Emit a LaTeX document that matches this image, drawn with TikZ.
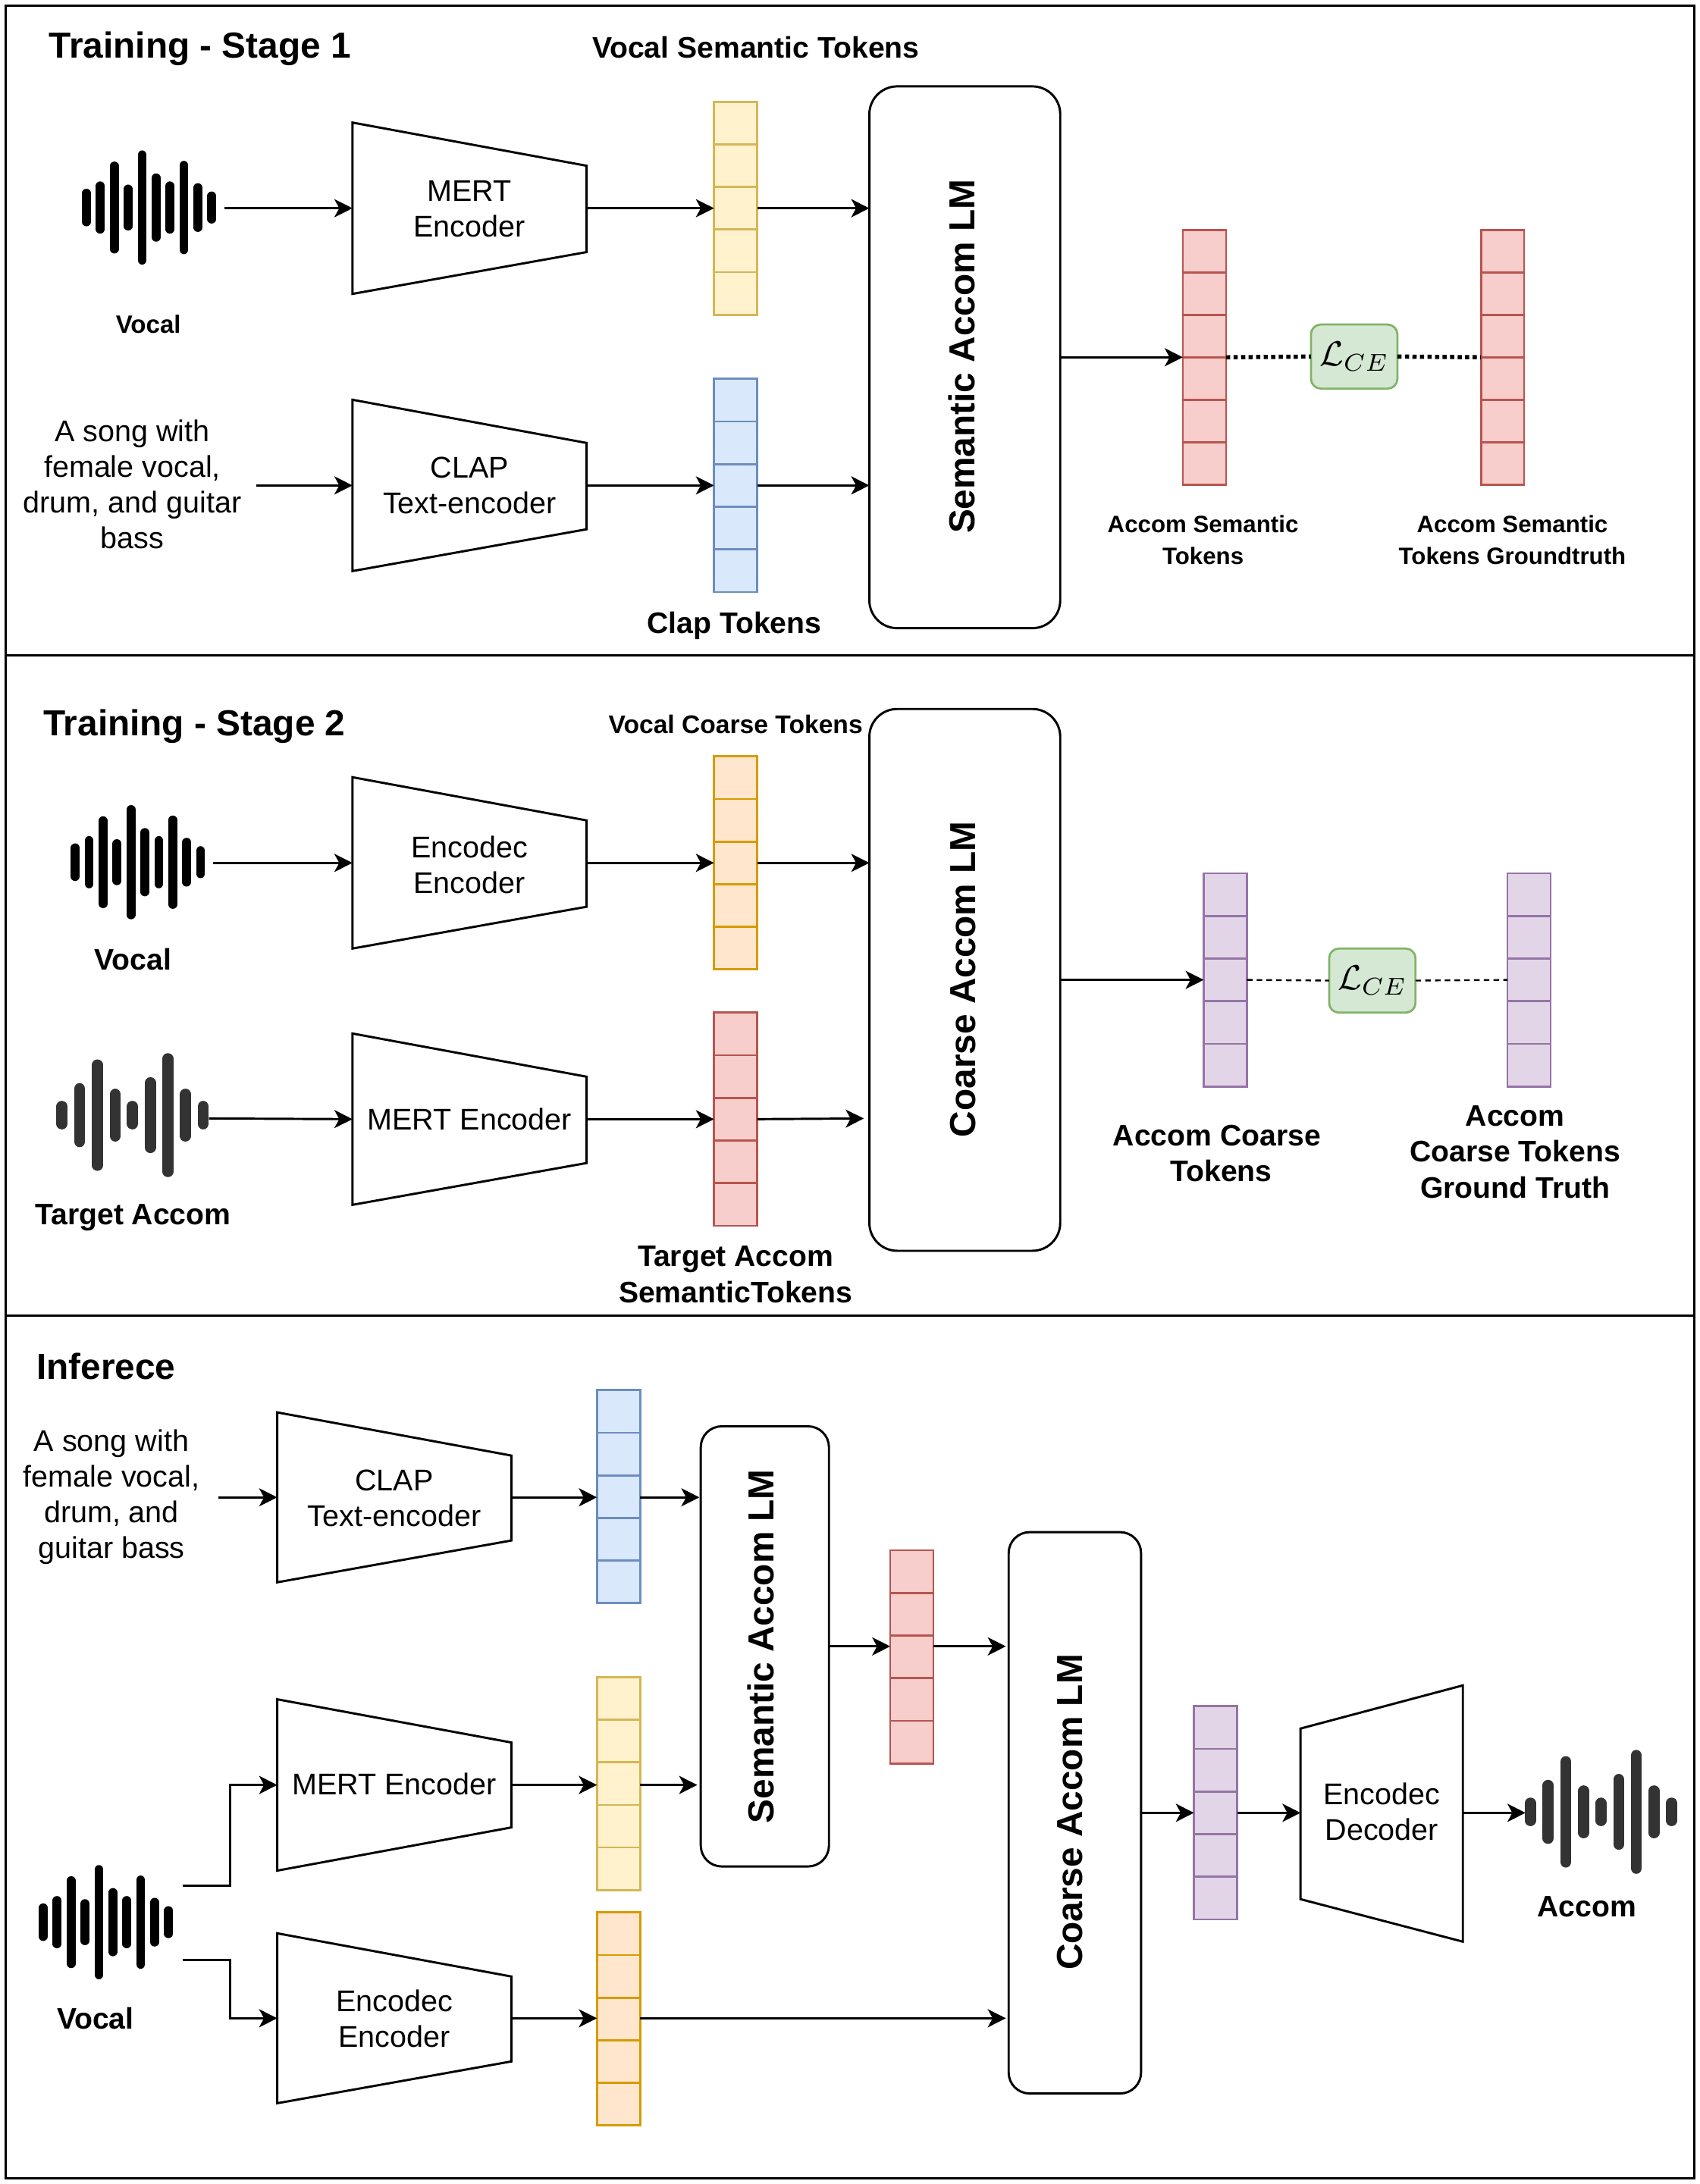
\documentclass[tikz,border=0pt]{standalone}
\usepackage{fontspec}
\setmainfont{Liberation Sans}
\usetikzlibrary{arrows.meta}
\definecolor{yelF}{HTML}{FFF2CC}\definecolor{yelD}{HTML}{D6B656}
\definecolor{bluF}{HTML}{DAE8FC}\definecolor{bluD}{HTML}{6C8EBF}
\definecolor{oraF}{HTML}{FFE6CC}\definecolor{oraD}{HTML}{D79B00}
\definecolor{redF}{HTML}{F8CECC}\definecolor{redD}{HTML}{B85450}
\definecolor{purF}{HTML}{E1D5E7}\definecolor{purD}{HTML}{9673A6}
\definecolor{greF}{HTML}{D5E8D4}\definecolor{greD}{HTML}{82B366}
\definecolor{waveD}{HTML}{333333}
\tikzset{
  panel/.style={draw=black,line width=1.6pt},
  link/.style={draw=black,line width=1.6pt,-{Stealth[length=13pt,width=13pt,inset=3.5pt]}},
  trapez/.style={draw=black,line width=1.6pt,line join=miter,fill=white},
  anchorbox/.style={draw=none,inner sep=0pt,outer sep=0pt},
  lmbox/.style={draw=black,line width=1.6pt,rounded corners=20pt,fill=white,inner sep=0pt,outer sep=0pt,anchor=north west},
  lmtext/.style={inner sep=0pt,rotate=90,font=\fontsize{26}{31}\selectfont\bfseries},
  tokbox/.style={line width=1.5pt,inner sep=0pt,outer sep=0pt,anchor=north west,minimum width=31pt},
  yel/.style={draw=yelD,fill=yelF}, blu/.style={draw=bluD,fill=bluF},
  ora/.style={draw=oraD,fill=oraF}, rdd/.style={draw=redD,fill=redF},
  pur/.style={draw=purD,fill=purF},
  lossbox/.style={draw=greD,fill=greF,line width=1.5pt,rounded corners=7pt,inner sep=0pt,outer sep=0pt,minimum width=62pt,minimum height=46pt},
  heavydots/.style={line width=3pt,dash pattern=on 3pt off 2.4pt},
  thindash/.style={line width=1.3pt,dash pattern=on 4pt off 3pt},
  title/.style={inner sep=0pt,anchor=west,font=\fontsize{26}{31}\selectfont\bfseries},
  lab/.style={inner sep=0pt,align=center,font=\fontsize{21.3}{25.8}\selectfont\bfseries},
  labs/.style={inner sep=0pt,align=center,font=\fontsize{17}{23}\selectfont\bfseries},
  body/.style={inner sep=0pt,align=center,font=\fontsize{21.5}{25.6}\selectfont}
}
% name, left x, top y, cells, cell height, colour style
\newcommand{\tokenstack}[6]{%
  \pgfmathsetmacro{\tokh}{#4*#5}%
  \node[tokbox,#6,minimum height=\tokh pt] (#1) at (#2,#3) {};
  \pgfmathtruncatemacro{\tokn}{#4-1}%
  \foreach \i in {1,...,\tokn}{%
    \pgfmathsetmacro{\toky}{#3+\i*#5}%
    \draw[line width=1.5pt,#6,fill=none] (#2,\toky) -- ({#2+31},\toky);
  }%
}
% name, xleft, xright, left top, left bottom, right top, right bottom, text offset, text
\newcommand{\encoder}[9]{%
  \draw[trapez] (#2,#4) -- (#3,#6) -- (#3,#7) -- (#2,#5) -- cycle;
  \pgfmathsetmacro{\encw}{#3-#2}\pgfmathsetmacro{\ench}{#5-#4}%
  \pgfmathsetmacro{\encx}{(#2+#3)/2}\pgfmathsetmacro{\ency}{(#4+#5)/2}%
  \node[anchorbox,minimum width=\encw pt,minimum height=\ench pt] (#1) at (\encx,\ency) {};
  \node[body] at ([yshift=#8 pt]#1.center) {#9};
}
% first-bar x, centre y : ten-bar vocal icon
\newcommand{\vocalwave}[2]{%
  \foreach \dx/\h in {0/27,10/37.5,20/66,30/33,40/82,50/49,60/37.5,70/67,80/35,90/23}{%
    \pgfmathsetmacro{\bx}{#1+\dx}\pgfmathsetmacro{\ba}{#2-\h/2+3.2}\pgfmathsetmacro{\bb}{#2+\h/2-3.2}%
    \draw[black,line width=6.4pt,line cap=round] (\bx,\ba) -- (\bx,\bb);
  }%
}
% first-bar x, centre y : nine-bar accompaniment icon
\newcommand{\accomwave}[2]{%
  \foreach \dx/\h in {0/20.5,12.7/46,25.4/80,38.2/38,50.6/20.5,63.4/54.5,76/89,88.6/38,101.3/20.5}{%
    \pgfmathsetmacro{\bx}{#1+\dx}\pgfmathsetmacro{\ba}{#2-\h/2+4}\pgfmathsetmacro{\bb}{#2+\h/2-4}%
    \draw[waveD,line width=8pt,line cap=round] (\bx,\ba) -- (\bx,\bb);
  }%
}
\newcommand{\lossterm}{\scalebox{2.5}{$\mathcal{L}_{CE}$}}
\begin{document}
\begin{tikzpicture}[x=1pt,y=-1pt]
\useasboundingbox (0,0) rectangle (1219.7,1568);
\fill[white] (0,0) rectangle (1219.7,1568);
% panels
\draw[panel] (4,4) rectangle (1216,470.5);
\draw[panel] (4,470.5) rectangle (1216,944.5);
\draw[panel] (4,944.5) rectangle (1216,1564);

%% ---- Stage 1
\node[title] (t1) at (35,35) {Training - Stage 1};
\node[lab] (vst) at (542.5,34) {Vocal Semantic Tokens};
\vocalwave{62}{149}
\coordinate (v1out) at (161,149.5);
\node[labs,font=\fontsize{18}{22}\selectfont\bfseries] (v1lab) at (106.5,233) {Vocal};
\node[body] (song1) at (95,347.5) {A song with\\female vocal,\\drum, and guitar\\bass};
\coordinate (s1out) at (184,348.5);
\encoder{mert1}{253}{421}{88}{211}{119}{181}{-0.6}{MERT\\Encoder}
\encoder{clap1}{253}{421}{287}{410}{318}{380}{-0.2}{CLAP\\Text-encoder}
\tokenstack{yel1}{512.5}{73}{5}{30.6}{yel}
\tokenstack{blu1}{512.5}{272}{5}{30.6}{blu}
\node[lab] (claplab) at (527,449) {Clap Tokens};
\node[lmbox,minimum width=137pt,minimum height=389pt] (lm1) at (624,62) {};
\node[lmtext] at (690.5,256) {Semantic Accom LM};
\tokenstack{red1}{849}{165}{6}{30.5}{rdd}
\tokenstack{red2}{1063}{165}{6}{30.5}{rdd}
\node[lossbox] (loss1) at (972,256) {\lossterm};
\node[labs] (aslab) at (863.5,387.5) {Accom Semantic\\Tokens};
\node[labs] (asglab) at (1085.5,387.5) {Accom Semantic\\Tokens Groundtruth};
\draw[link] (v1out) -- (mert1.west);
\draw[link] (s1out) -- (clap1.west);
\draw[link] (mert1.east) -- (yel1.west);
\draw[link] (clap1.east) -- (blu1.west);
\draw[link] (yel1.east) -- (yel1.east -| lm1.west);
\draw[link] (blu1.east) -- (blu1.east -| lm1.west);
\draw[link] (lm1.east) -- (red1.west);
\draw[heavydots] (red1.east) -- (loss1.west);
\draw[heavydots] (loss1.east) -- (red2.west);

%% ---- Stage 2
\node[title] (t2) at (31,521.5) {Training - Stage 2};
\node[lab,font=\fontsize{18.3}{22}\selectfont\bfseries] (vct) at (528,520) {Vocal Coarse Tokens};
\vocalwave{54}{619}
\coordinate (v2out) at (153,619.5);
\node[lab] (v2lab) at (95.5,689) {Vocal};
\accomwave{44.5}{800.6}
\coordinate (a2out) at (150,803);
\node[lab] (talab) at (95.5,874) {Target Accom};
\encoder{enc2}{253}{421}{558}{681}{589}{651}{-1.5}{Encodec\\Encoder}
\encoder{mert2}{253}{421}{742}{865}{773}{835}{0}{MERT Encoder}
\tokenstack{ora2}{512.5}{543}{5}{30.6}{ora}
\tokenstack{red3}{512.5}{727}{5}{30.6}{rdd}
\node[lab] (tastlab) at (528,915) {Target Accom\\SemanticTokens};
\node[lmbox,minimum width=137pt,minimum height=389pt] (lm2) at (624,509) {};
\node[lmtext] at (691,703) {Coarse Accom LM};
\tokenstack{pur1}{864}{627}{5}{30.6}{pur}
\tokenstack{pur2}{1082}{627}{5}{30.6}{pur}
\node[lossbox] (loss2) at (985,704) {\lossterm};
\node[lab] (aclab) at (873.5,828) {Accom Coarse\\\hspace*{6pt}Tokens};
\node[lab] (acglab) at (1087.5,827) {Accom\\Coarse Tokens\\Ground Truth};
\coordinate (lm2in) at (620,803);
\draw[link] (v2out) -- (enc2.west);
\draw[link] (a2out) -- (mert2.west);
\draw[link] (enc2.east) -- (ora2.west);
\draw[link] (mert2.east) -- (red3.west);
\draw[link] (ora2.east) -- (ora2.east -| lm2.west);
\draw[link] (red3.east) -- (lm2in);
\draw[link] (lm2.east) -- (pur1.west);
\draw[thindash] (pur1.east) -- (loss2.west);
\draw[thindash] (loss2.east) -- (pur2.west);

%% ---- Inference
\node[title] (t3) at (26,981) {Inferece};
\node[body] (song3) at (80,1075) {A song with\\female vocal,\\drum, and\\guitar bass};
\coordinate (s3out) at (157,1075);
\encoder{clap3}{199}{367}{1014}{1136}{1045}{1106}{-0.5}{CLAP\\Text-encoder}
\encoder{mert3}{199}{367}{1220}{1343}{1251}{1312}{0.8}{MERT Encoder}
\encoder{enc3}{199}{367}{1388}{1510}{1419}{1480}{-0.3}{Encodec\\Encoder}
\encoder{dec3}{933.5}{1050}{1241}{1363.5}{1210}{1394}{1.8}{Encodec\\Decoder}
\tokenstack{blu3}{428.5}{998}{5}{30.6}{blu}
\tokenstack{yel3}{428.5}{1204}{5}{30.6}{yel}
\tokenstack{ora3}{428.5}{1373}{5}{30.6}{ora}
\tokenstack{red4}{639}{1113}{5}{30.6}{rdd}
\tokenstack{pur3}{857}{1225}{5}{30.6}{pur}
\node[lmbox,rounded corners=15pt,minimum width=92pt,minimum height=316pt] (lm3) at (503,1024) {};
\node[lmtext] at (546,1182) {Semantic Accom LM};
\node[lmbox,rounded corners=15pt,minimum width=95pt,minimum height=403pt] (lm4) at (724,1100) {};
\node[lmtext] at (768,1301) {Coarse Accom LM};
\vocalwave{31}{1380}
\coordinate (v3a) at (131,1354);
\coordinate (v3b) at (131,1407);
\coordinate (b3a) at (165,1281.5);
\coordinate (b3b) at (165,1449);
\node[lab] (v3lab) at (68.5,1449) {Vocal};
\accomwave{1098.5}{1300.8}
\coordinate (a3in) at (1095,1301.5);
\node[lab] (a3lab) at (1139,1369) {Accom};
\coordinate (lm3ina) at (502,1075);
\coordinate (lm3inb) at (500.5,1281.5);
\coordinate (lm4ina) at (722,1182);
\coordinate (lm4inb) at (722,1449);
\draw[link] (s3out) -- (clap3.west);
\draw[link] (v3a) -| (b3a) -- (mert3.west);
\draw[link] (v3b) -| (b3b) -- (enc3.west);
\draw[link] (clap3.east) -- (clap3.east -| blu3.west);
\draw[link] (mert3.east) -- (mert3.east -| yel3.west);
\draw[link] (enc3.east) -- (enc3.east -| ora3.west);
\draw[link] (clap3.east -| blu3.east) -- (lm3ina);
\draw[link] (mert3.east -| yel3.east) -- (lm3inb);
\draw[link] (enc3.east -| ora3.east) -- (lm4inb);
\draw[link] (lm3.east) -- (lm3.east -| red4.west);
\draw[link] (lm3.east -| red4.east) -- (lm4ina);
\draw[link] (lm4.east) -- (lm4.east -| pur3.west);
\draw[link] (lm4.east -| pur3.east) -- (lm4.east -| dec3.west);
\draw[link] (lm4.east -| dec3.east) -- (a3in);
\end{tikzpicture}
\end{document}
